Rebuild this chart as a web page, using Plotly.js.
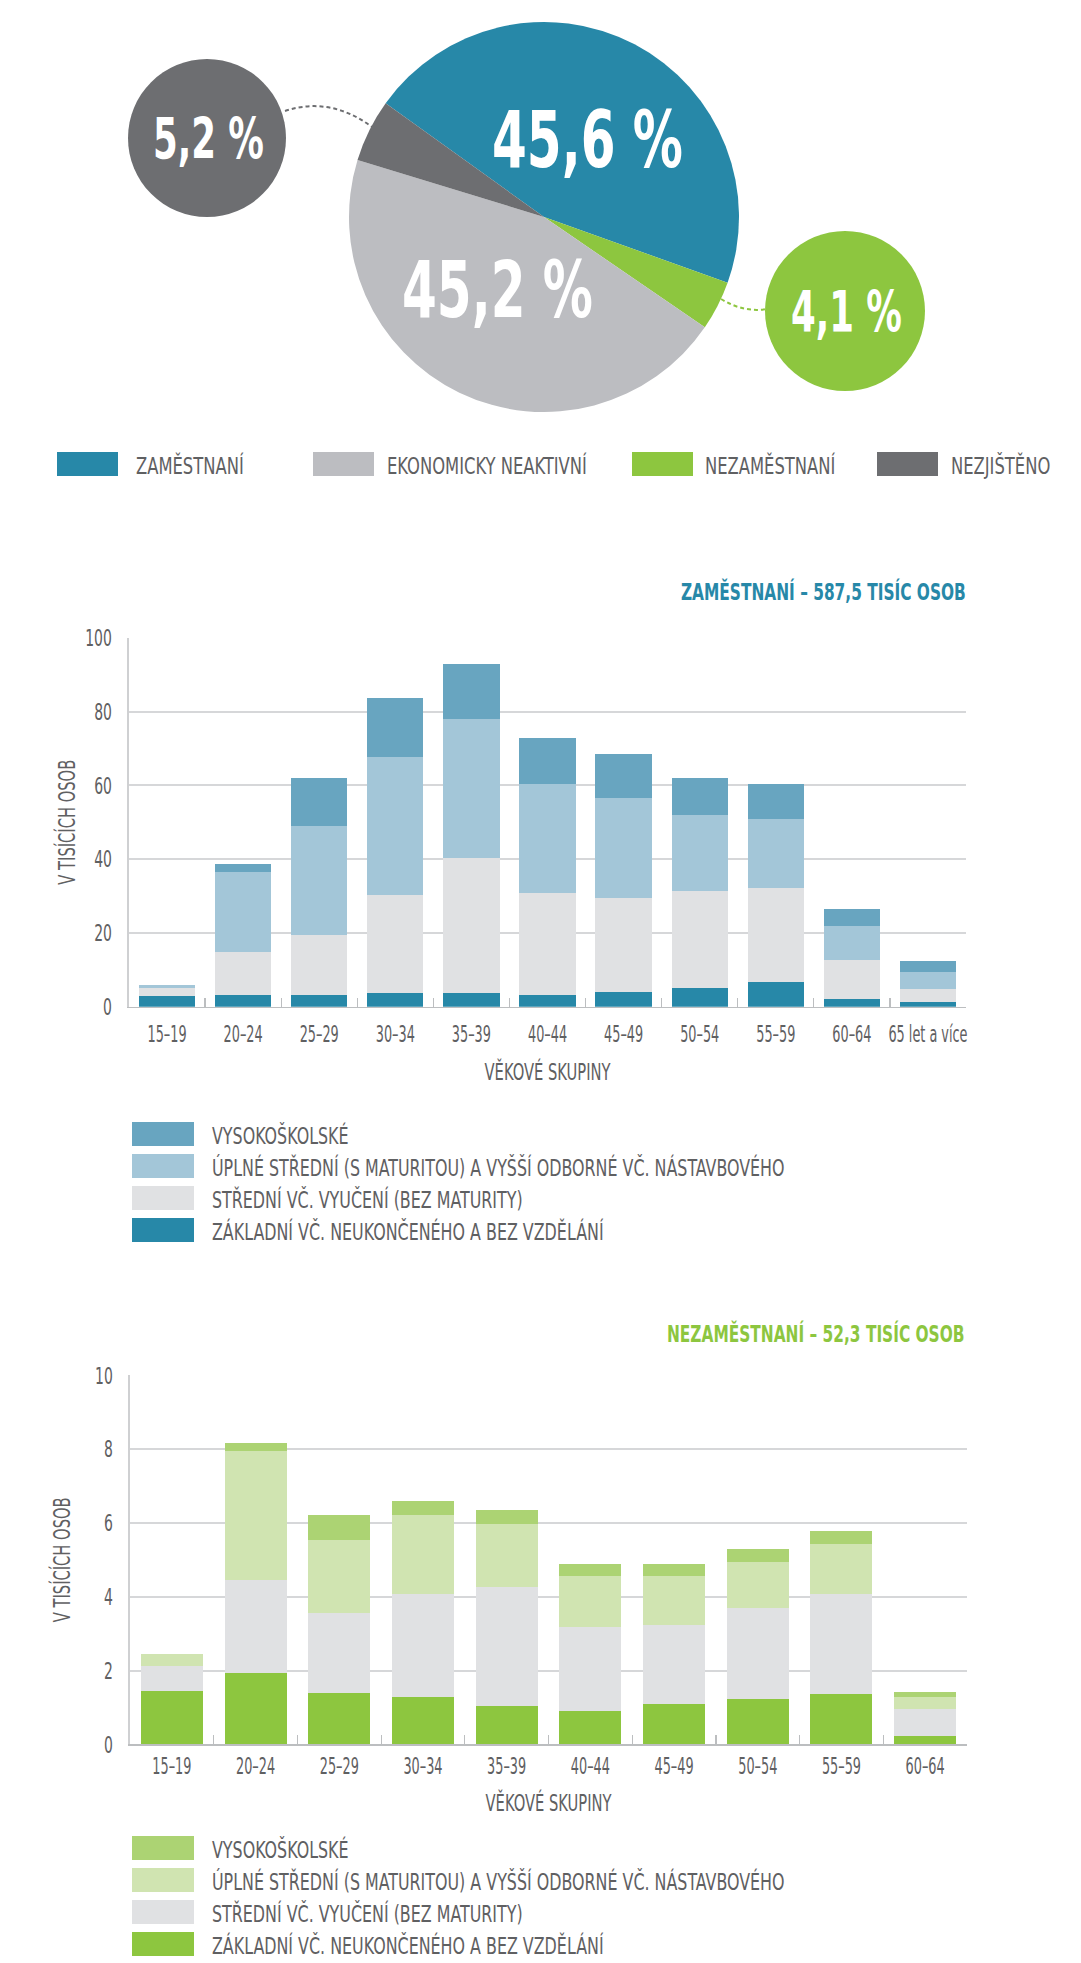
<!DOCTYPE html>
<html>
<head>
<meta charset="utf-8">
<script src="https://cdn.plot.ly/plotly-3.0.1.min.js"></script>
<style>
  html, body { margin: 0; padding: 0; background: #ffffff; }
  #chart { width: 1081px; height: 1963px; }
</style>
</head>
<body>
<div id="chart"></div>
<script>
// ---------------- DATA ----------------
// Pie (drawing order, clockwise from the teal slice)
const pieLabels = ['ZAMĚSTNANÍ', 'NEZAMĚSTNANÍ', 'EKONOMICKY NEAKTIVNÍ', 'NEZJIŠTĚNO'];
const pieValues = [45.6, 4.1, 45.2, 5.2];
const pieColors = ['#2788a8', '#8dc63f', '#bcbdc1', '#6d6e71'];
// legend order under the pie
const pieLegendOrder = ['ZAMĚSTNANÍ', 'EKONOMICKY NEAKTIVNÍ', 'NEZAMĚSTNANÍ', 'NEZJIŠTĚNO'];

// Employed by age group and education (thousands)
const ageGroupsEmp = ['15–19', '20–24', '25–29', '30–34', '35–39', '40–44', '45–49', '50–54', '55–59', '60–64', '65 let a více'];
const empZakladni = [3.0, 3.1, 3.1, 3.6, 3.6, 3.1, 3.9, 5.0, 6.6, 2.0, 1.2];
const empStredni  = [2.1, 11.6, 16.3, 26.7, 36.7, 27.7, 25.5, 26.3, 25.7, 10.6, 3.5];
const empUplne    = [0.7, 21.7, 29.5, 37.5, 37.6, 29.5, 27.1, 20.6, 18.7, 9.3, 4.6];
const empVysoko   = [0.0, 2.3, 13.0, 15.8, 15.1, 12.4, 11.9, 10.0, 9.3, 4.5, 3.0];

// Unemployed by age group and education (thousands)
const ageGroupsUnemp = ['15–19', '20–24', '25–29', '30–34', '35–39', '40–44', '45–49', '50–54', '55–59', '60–64'];
const unZakladni = [1.44, 1.92, 1.38, 1.29, 1.05, 0.89, 1.08, 1.22, 1.36, 0.22];
const unStredni  = [0.69, 2.52, 2.19, 2.77, 3.20, 2.30, 2.14, 2.48, 2.72, 0.75];
const unUplne    = [0.31, 3.52, 1.98, 2.15, 1.73, 1.38, 1.35, 1.23, 1.36, 0.32];
const unVysoko   = [0.00, 0.20, 0.67, 0.39, 0.36, 0.31, 0.31, 0.35, 0.33, 0.12];

// education categories (legend order, top to bottom)
const eduNames = ['VYSOKOŠKOLSKÉ', 'ÚPLNÉ STŘEDNÍ (S MATURITOU) A VYŠŠÍ ODBORNÉ VČ. NÁSTAVBOVÉHO', 'STŘEDNÍ VČ. VYUČENÍ (BEZ MATURITY)', 'ZÁKLADNÍ VČ. NEUKONČENÉHO A BEZ VZDĚLÁNÍ'];
const empTitle = 'ZAMĚSTNANÍ – 587,5 TISÍC OSOB';
const unTitle = 'NEZAMĚSTNANÍ – 52,3 TISÍC OSOB';
const yTitle = 'V TISÍCÍCH OSOB';
const xTitle = 'VĚKOVÉ SKUPINY';

// ---------------- FONT PICKING (narrowest installed sans) ----------------
const W = 1081, H = 1963;
const X = p => p / W;
const Y = p => 1 - p / H;
const ctx = document.createElement('canvas').getContext('2d');
const SAMPLE = 'ÚPLNÉ STŘEDNÍ (S MATURITOU) 0123456789';
function measure(fontStr) { ctx.font = fontStr; return ctx.measureText(SAMPLE).width; }
function installed(fam) {
  for (const base of ['monospace', 'serif', 'sans-serif']) {
    if (measure('72px ' + base) !== measure("72px '" + fam + "', " + base)) return true;
  }
  return false;
}
const candidates = ['Liberation Sans Narrow', 'DejaVu Sans Condensed', 'Roboto', 'Liberation Sans', 'Lato', 'Inter', 'Open Sans', 'Noto Sans'];
let best = null, bestW = Infinity;
candidates.forEach(fam => {
  if (!installed(fam)) return;
  const w = measure("72px '" + fam + "', sans-serif");
  if (w < bestW - 0.5) { bestW = w; best = fam; }
});
if (!best) best = 'Roboto';
const F = "'" + best + "', Roboto, sans-serif";
function fit(text, width, bold) {
  ctx.font = (bold ? 'bold ' : '') + '100px ' + F;
  return 100 * width / ctx.measureText(text).width;
}
ctx.font = '100px ' + F;
const CAPR = (ctx.measureText('H').actualBoundingBoxAscent || 71) / 100;
const fmtPct = v => v.toFixed(1).replace('.', ',') + ' %';

// ---------------- STYLE ----------------
const TXT = '#5f6062';
const empColors = ['#68a5c0', '#a3c6d8', '#e0e1e3', '#2788a8'];
const unColors  = ['#acd373', '#d0e4b1', '#e0e1e3', '#8dc63f'];
const GRID = '#d6d7d9';

const tickSize = Math.min(fit('65 let a více', 86, false), 19);
const axTitleSize = Math.min(fit(xTitle, 126, false), 19);
const legSize = fit(eduNames[1], 573, false);
const pieLegSize = fit('EKONOMICKY NEAKTIVNÍ', 200, false);
const titleSize = fit(empTitle, 285, true);
const bigSize = fit(fmtPct(45.6), 191, true);
const smallSize = fit(fmtPct(5.2), 111, true);

const traces = [];
// Pie
traces.push({
  type: 'pie',
  labels: pieLabels,
  values: pieValues,
  sort: false,
  direction: 'clockwise',
  rotation: -54.3,
  marker: { colors: pieColors, line: { width: 0 } },
  textinfo: 'none',
  hoverinfo: 'label+percent',
  domain: { x: [X(349), X(739)], y: [Y(412), Y(22)] },
  showlegend: false
});

function addStack(cats, series, colors, xa, ya) {
  // series given bottom to top: zakladni, stredni, uplne, vysoko
  const names = [eduNames[3], eduNames[2], eduNames[1], eduNames[0]];
  const cols = [colors[3], colors[2], colors[1], colors[0]];
  series.forEach((s, i) => {
    traces.push({
      type: 'bar', x: cats, y: s, name: names[i],
      marker: { color: cols[i], line: { width: 0 } },
      xaxis: xa, yaxis: ya, showlegend: false
    });
  });
}
addStack(ageGroupsEmp, [empZakladni, empStredni, empUplne, empVysoko], empColors, 'x', 'y');
addStack(ageGroupsUnemp, [unZakladni, unStredni, unUplne, unVysoko], unColors, 'x2', 'y2');

const shapes = [];
const annotations = [];

// pie value labels
annotations.push({ xref: 'paper', yref: 'paper', x: X(587), y: Y(139), text: fmtPct(pieValues[0]), showarrow: false,
  font: { family: F, size: bigSize, color: '#ffffff', weight: 'bold' }, xanchor: 'center', yanchor: 'middle' });
annotations.push({ xref: 'paper', yref: 'paper', x: X(497), y: Y(290), text: fmtPct(pieValues[2]), showarrow: false,
  font: { family: F, size: bigSize, color: '#ffffff', weight: 'bold' }, xanchor: 'center', yanchor: 'middle' });

// callout bubbles
const bubbles = [
  { cx: 207, cy: 138, r: 79, color: pieColors[3], v: pieValues[3] },
  { cx: 845, cy: 311, r: 80, color: pieColors[1], v: pieValues[1] }
];
bubbles.forEach(b => {
  shapes.push({ type: 'circle', xref: 'paper', yref: 'paper', x0: X(b.cx - b.r), x1: X(b.cx + b.r), y0: Y(b.cy + b.r), y1: Y(b.cy - b.r),
    fillcolor: b.color, line: { width: 0 }, layer: 'above' });
  annotations.push({ xref: 'paper', yref: 'paper', x: X(b.cx + 1), y: Y(b.cy), text: fmtPct(b.v), showarrow: false,
    font: { family: F, size: smallSize, color: '#ffffff', weight: 'bold' }, xanchor: 'center', yanchor: 'middle' });
});
// dashed connectors
function qpath(p0, c, p1) {
  return 'M' + X(p0[0]) + ',' + Y(p0[1]) + ' Q' + X(c[0]) + ',' + Y(c[1]) + ' ' + X(p1[0]) + ',' + Y(p1[1]);
}
shapes.push({ type: 'path', xref: 'paper', yref: 'paper', path: qpath([285, 111], [330, 96], [372, 127]),
  line: { color: pieColors[3], width: 2, dash: '4px,3px' }, layer: 'above' });
shapes.push({ type: 'path', xref: 'paper', yref: 'paper', path: qpath([721, 299], [744, 313], [767, 309]),
  line: { color: pieColors[1], width: 2, dash: '4px,3px' }, layer: 'above' });

// pie legend
const pieSwX = [57, 313, 632, 877];
const pieTxtX = [134, 385, 703, 949];
pieLegendOrder.forEach((lab, i) => {
  const col = pieColors[pieLabels.indexOf(lab)];
  shapes.push({ type: 'rect', xref: 'paper', yref: 'paper', x0: X(pieSwX[i]), x1: X(pieSwX[i] + 61), y0: Y(476), y1: Y(452),
    fillcolor: col, line: { width: 0 } });
  annotations.push({ xref: 'paper', yref: 'paper', x: X(pieTxtX[i]), y: Y(465), text: lab, showarrow: false,
    font: { family: F, size: pieLegSize, color: TXT }, xanchor: 'left', yanchor: 'middle' });
});

// chart titles
annotations.push({ xref: 'paper', yref: 'paper', x: X(968), y: Y(591), text: empTitle, showarrow: false,
  font: { family: F, size: titleSize, color: '#2788a8', weight: 'bold' }, xanchor: 'right', yanchor: 'middle' });
annotations.push({ xref: 'paper', yref: 'paper', x: X(966), y: Y(1333), text: unTitle, showarrow: false,
  font: { family: F, size: titleSize, color: '#8dc63f', weight: 'bold' }, xanchor: 'right', yanchor: 'middle' });

// bar legends
function barLegend(yTop, colors) {
  eduNames.forEach((n, i) => {
    const y0 = yTop + 32 * i;
    shapes.push({ type: 'rect', xref: 'paper', yref: 'paper', x0: X(132), x1: X(194), y0: Y(y0 + 24), y1: Y(y0),
      fillcolor: colors[i], line: { width: 0 } });
    annotations.push({ xref: 'paper', yref: 'paper', x: X(210), y: Y(y0 + 13), text: n, showarrow: false,
      font: { family: F, size: legSize, color: TXT }, xanchor: 'left', yanchor: 'middle' });
  });
}
barLegend(1122, empColors);
barLegend(1836, unColors);

function xAxis(domain, anchor, standoff, titleStandoff) {
  return {
    domain: domain, anchor: anchor, type: 'category',
    showline: true, linecolor: '#bcbec0', linewidth: 1.5,
    ticks: 'inside', tickson: 'boundaries', ticklen: 9, tickcolor: '#bcbec0', tickwidth: 1.2,
    showgrid: false, zeroline: false, tickangle: 0,
    tickfont: { family: F, size: tickSize, color: TXT },
    ticklabelstandoff: standoff,
    title: { text: xTitle, font: { family: F, size: axTitleSize, color: TXT }, standoff: titleStandoff },
    fixedrange: true
  };
}
function yAxis(domain, anchor, range, dtick, titleStandoff) {
  return {
    domain: domain, anchor: anchor, range: range, dtick: dtick,
    showline: true, linecolor: '#cfd0d2', linewidth: 2,
    showgrid: true, gridcolor: GRID, gridwidth: 2, zeroline: false,
    ticks: '', tickfont: { family: F, size: tickSize, color: TXT },
    ticklabelstandoff: 12,
    title: { text: yTitle, font: { family: F, size: axTitleSize, color: TXT }, standoff: titleStandoff },
    fixedrange: true
  };
}

const layout = {
  width: W, height: H,
  margin: { l: 0, r: 0, t: 0, b: 0, pad: 0 },
  paper_bgcolor: '#ffffff', plot_bgcolor: '#ffffff',
  showlegend: false,
  barmode: 'stack', bargap: 0.26,
  font: { family: F, color: TXT },
  xaxis: xAxis([X(129), X(966)], 'y', 12, 24),
  yaxis: yAxis([Y(1006.7), Y(637.7)], 'x', [0, 100], 20, 8),
  xaxis2: xAxis([X(130), X(967)], 'y2', 7, 22),
  yaxis2: yAxis([Y(1744.3), Y(1375.3)], 'x2', [0, 10], 2, 23),
  shapes: shapes,
  annotations: annotations
};

// Condensed look of the original typeface: enlarge glyph height and squeeze
// horizontally (scale about the text anchor) so the width stays the same.
function condense(gd) {
  const items = [];
  gd.querySelectorAll('text').forEach(t => {
    const txt = t.textContent.trim();
    if (!txt) return;
    const s = parseFloat(t.style.fontSize || window.getComputedStyle(t).fontSize);
    if (!s) return;
    let cap = 17;
    let squeeze = 1;
    if (/%$/.test(txt)) cap = s > 45 ? 57 : 42;
    if (t.closest('.xtick, .x2tick')) squeeze = 0.92;
    items.push({ t, s, cap, squeeze });
  });
  items.forEach(({ t, s, cap, squeeze }) => {
    const ns = cap / CAPR;
    if (ns <= s) return;
    const k = squeeze * s / ns;
    const dy = 0.5 * CAPR * (ns - s);
    t.style.fontSize = ns + 'px';
    const x0 = parseFloat(t.getAttribute('x') || '0');
    const y0 = parseFloat(t.getAttribute('y') || '0');
    t.setAttribute('y', y0 + dy);
    t.querySelectorAll('tspan').forEach(el => {
      if (el.hasAttribute('y')) el.setAttribute('y', parseFloat(el.getAttribute('y')) + dy);
    });
    const tr = t.getAttribute('transform') || '';
    t.setAttribute('transform', (tr + ' translate(' + x0 + ',0) scale(' + k + ',1) translate(' + (-x0) + ',0)').trim());
  });
}

Plotly.newPlot('chart', traces, layout, { displayModeBar: false, staticPlot: true }).then(condense);
</script>
</body>
</html>
